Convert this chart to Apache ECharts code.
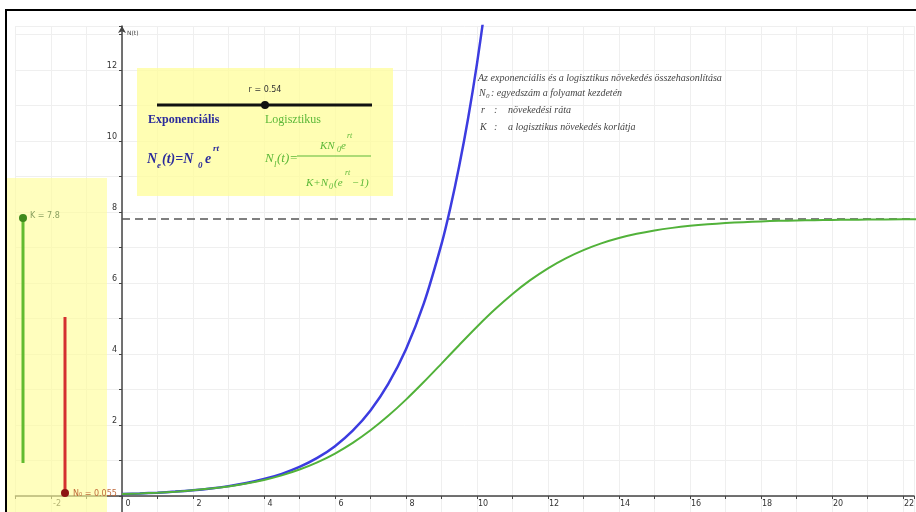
<!DOCTYPE html>
<html>
<head>
<meta charset="utf-8">
<script src="https://cdn.jsdelivr.net/npm/echarts@6/dist/echarts.min.js"></script>
<style>html,body{margin:0;padding:0;background:#fff}#c{width:916px;height:512px}</style>
</head>
<body>
<div id="c"></div>
<script>
// ---- data ----
const kValue = 7.8;      // K slider
const rValue = 0.54;     // r slider
const n0Value = 0.055;   // N0 slider
const tExp = [0,0.5,1,1.5,2,2.5,3,3.5,4,4.5,5,5.5,6,6.5,7,7.5,8,8.5,9,9.25,9.5,9.75,10,10.25];
const nExp = [0.055,0.072,0.094,0.124,0.162,0.212,0.278,0.364,0.477,0.625,0.818,1.072,1.404,1.84,2.41,3.157,4.136,5.417,7.096,8.12,9.30,10.64,12.18,13.94];
const tLog = [0,0.5,1,1.5,2,2.5,3,3.5,4,4.5,5,5.5,6,6.5,7,7.5,8,8.5,9,9.5,10,10.5,11,11.5,12,12.5,13,13.5,14,14.5,15,15.5,16,16.5,17,17.5,18,18.5,19,19.5,20,20.5,21,22,22.5];
const nLog = [0.055,0.072,0.094,0.123,0.160,0.208,0.270,0.350,0.452,0.582,0.746,0.948,1.197,1.497,1.851,2.259,2.715,3.21,3.73,4.255,4.768,5.251,5.691,6.08,6.415,6.696,6.927,7.116,7.267,7.386,7.48,7.553,7.61,7.654,7.688,7.715,7.735,7.751,7.762,7.771,7.778,7.783,7.787,7.793,7.795];
const kLineT = [0, 22.31];
const xTickLabels = [-2,0,2,4,6,8,10,12,14,16,18,20,22];
const yTickLabels = [2,4,6,8,10,12];

const serif = '"Liberation Serif","DejaVu Serif",serif';
const chart = echarts.init(document.getElementById('c'), null, {renderer:'canvas'});

function txt(x, y, s, size, color, extra) {
  return {type:'text', x:x, y:y, z:120, style:Object.assign({text:s, fontSize:size, fill:color, fontFamily:serif, verticalAlign:'middle'}, extra||{})};
}
const blueF = {fontStyle:'italic', fontWeight:'bold'};
const greenF = {fontStyle:'italic'};
const cB = '#2b2b9c', cG = '#5cb838';
const sans = '"DejaVu Sans",sans-serif';

const graphics = [
  // frame
  {type:'rect', shape:{x:6, y:9, width:910, height:2}, style:{fill:'#000'}, z:130},
  {type:'rect', shape:{x:5, y:9, width:2, height:503}, style:{fill:'#000'}, z:130},
  // yellow panels
  {type:'rect', shape:{x:7, y:178, width:100, height:334}, style:{fill:'rgba(255,253,150,0.62)'}, z:100},
  {type:'rect', shape:{x:137, y:68, width:256, height:128}, style:{fill:'rgba(255,253,150,0.72)'}, z:100},
  // r slider
  {type:'line', shape:{x1:157, y1:105, x2:372, y2:105}, style:{stroke:'#111', lineWidth:3}, z:110},
  {type:'circle', shape:{cx:265, cy:105, r:4}, style:{fill:'#111'}, z:111},
  txt(265, 90, 'r = ' + rValue, 8, '#333', {fontFamily:sans, align:'center'}),
  // headings
  txt(148, 120, 'Exponenciális', 12, cB, {fontWeight:'bold'}),
  txt(265, 120, 'Logisztikus', 12, cG),
  // exponential formula
  txt(147, 159, 'N', 14, cB, blueF),
  txt(157, 166, 'e', 9, cB, blueF),
  txt(162, 159, '(t)=N', 14, cB, blueF),
  txt(198, 166, '0', 9, cB, blueF),
  txt(205, 159, 'e', 14, cB, blueF),
  txt(213, 149, 'rt', 9, cB, blueF),
  // logistic formula
  txt(265, 159, 'N', 13, cG, greenF),
  txt(274, 165, 'l', 9, cG, greenF),
  txt(277, 159, '(t)=', 13, cG, greenF),
  {type:'line', shape:{x1:297, y1:156, x2:371, y2:156}, style:{stroke:cG, lineWidth:1.2}, z:110},
  txt(320, 146, 'KN', 11, cG, greenF),
  txt(337, 150, '0', 8, cG, greenF),
  txt(341, 146, 'e', 11, cG, greenF),
  txt(347, 136, 'rt', 8, cG, greenF),
  txt(306, 183, 'K+N', 11, cG, greenF),
  txt(329, 187, '0', 8, cG, greenF),
  txt(334, 183, '(e', 11, cG, greenF),
  txt(345, 173, 'rt', 8, cG, greenF),
  txt(352, 183, '−1)', 11, cG, greenF),
  // description text
  txt(478, 78, 'Az exponenciális és a logisztikus növekedés összehasonlítása', 10, '#444', greenF),
  txt(479, 93, 'N', 10, '#444', greenF),
  txt(486, 96, '0', 7, '#444', greenF),
  txt(491, 93, ': egyedszám a folyamat kezdetén', 10, '#444', greenF),
  txt(481, 110, 'r', 10, '#444', greenF),
  txt(494, 110, ':', 10, '#444', greenF),
  txt(508, 110, 'növekedési ráta', 10, '#444', greenF),
  txt(480, 127, 'K', 10, '#444', greenF),
  txt(494, 127, ':', 10, '#444', greenF),
  txt(508, 127, 'a logisztikus növekedés korlátja', 10, '#444', greenF),
  // K slider (vertical, green)
  {type:'line', shape:{x1:23, y1:218, x2:23, y2:463}, style:{stroke:'#62bb30', lineWidth:3}, z:110},
  {type:'circle', shape:{cx:23, cy:218, r:4}, style:{fill:'#3f8a1c'}, z:111},
  txt(30, 216, 'K = ' + kValue, 8, '#8aa060', {fontFamily:sans}),
  // N0 slider (vertical, red)
  {type:'line', shape:{x1:65, y1:317, x2:65, y2:493}, style:{stroke:'#d43030', lineWidth:3}, z:110},
  {type:'circle', shape:{cx:65, cy:493, r:4}, style:{fill:'#8e1414'}, z:111},
  txt(73, 494, 'N₀ = ' + n0Value, 8, '#c06a3a', {fontFamily:sans}),
  // axis name
  txt(127, 33, 'N(t)', 6, '#444', {fontFamily:sans})
];

const option = {
  animation: false,
  backgroundColor: '#fff',
  grid: {left: 15.5, right: 2, top: 26, bottom: -19.5, containLabel: false, outerBoundsMode: 'none'},
  xAxis: {
    type: 'value', min: -3, max: 22.31, interval: 1, position: 'bottom', offset: -35.5,
    axisLine: {onZero: false, lineStyle: {color: '#444', width: 1.5}},
    axisTick: {show: true, length: 3, lineStyle: {color: '#444'}},
    axisLabel: {
      fontSize: 8, color: '#333', margin: 4, padding: [0, 0, 0, 12],
      fontFamily: sans,
      formatter: function (v) { const r = Math.round(v); return (Math.abs(v - r) < 1e-6 && xTickLabels.indexOf(r) >= 0) ? String(r) : ''; }
    },
    splitLine: {show: true, lineStyle: {color: '#efefef', width: 1}}
  },
  yAxis: {
    type: 'value', min: -1, max: 13.24, interval: 1, position: 'left', offset: -106.5,
    axisLine: {onZero: false, symbol: ['none', 'arrow'], symbolSize: [6, 7], lineStyle: {color: '#444', width: 1.5}},
    axisTick: {show: true, length: 3, lineStyle: {color: '#444'}},
    axisLabel: {
      fontSize: 8, color: '#333', margin: 5, verticalAlign: 'bottom',
      fontFamily: sans,
      formatter: function (v) { const r = Math.round(v); return (Math.abs(v - r) < 1e-6 && yTickLabels.indexOf(r) >= 0) ? String(r) : ''; }
    },
    splitLine: {show: true, lineStyle: {color: '#efefef', width: 1}}
  },
  series: [
    {
      name: 'K', type: 'line', data: kLineT.map(t => [t, kValue]), showSymbol: false, silent: true,
      lineStyle: {color: '#555', width: 1.5, type: [8, 5]}, z: 3
    },
    {
      name: 'Exponenciális', type: 'line', data: tExp.map((t, i) => [t, nExp[i]]), showSymbol: false, smooth: 0.3, clip: true,
      lineStyle: {color: '#3c3ce0', width: 2.5}, z: 4
    },
    {
      name: 'Logisztikus', type: 'line', data: tLog.map((t, i) => [t, nLog[i]]), showSymbol: false, smooth: 0.3, clip: true,
      lineStyle: {color: '#52b23a', width: 2}, z: 5
    }
  ],
  graphic: graphics
};
chart.setOption(option);
</script>
</body>
</html>
